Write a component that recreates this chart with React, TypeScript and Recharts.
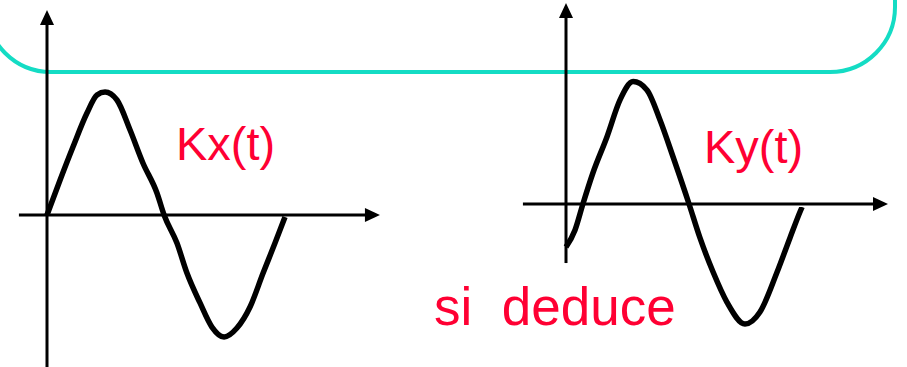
import { LineChart, Line, XAxis, YAxis, ReferenceLine } from "recharts";

// Kx(t): one period, time in periods, value in amplitude units
const kxTime = [0, 0.055, 0.109, 0.168, 0.21, 0.244, 0.294, 0.349, 0.403, 0.462, 0.492, 0.546, 0.588, 0.643, 0.693, 0.744, 0.798, 0.853, 0.908, 0.958, 1.0];
const kxValue = [0, 0.285, 0.553, 0.829, 0.976, 1.0, 0.935, 0.691, 0.423, 0.179, 0, -0.228, -0.472, -0.715, -0.911, -0.992, -0.919, -0.748, -0.472, -0.228, -0.016];

// Ky(t): starts below zero, shifted phase
const kyTime = [0, 0.038, 0.071, 0.113, 0.172, 0.227, 0.282, 0.34, 0.395, 0.45, 0.517, 0.563, 0.618, 0.676, 0.752, 0.815, 0.887, 0.941, 0.983, 0.992];
const kyValue = [-0.35, -0.211, 0, 0.252, 0.545, 0.846, 0.995, 0.927, 0.683, 0.382, 0, -0.276, -0.553, -0.797, -0.976, -0.878, -0.553, -0.276, -0.065, -0.024];

// axis extents: [tMin, tMax] and [vMin, vMax]
const kxAxisT = [-0.118, 1.399];
const kxAxisV = [-1.3, 1.667];
const kyAxisT = [-0.181, 1.353];
const kyAxisV = [-0.48, 1.634];

const labels = ["Kx(t)", "Ky(t)", "si  deduce"];

const RED = "#ff0033";
const TEAL = "#14dcc4";
const FONT = "'Liberation Sans', Arial, sans-serif";

const toRows = (t: number[], v: number[]) => t.map((x, i) => ({ t: x, v: v[i] }));

function Arrow(props: any) {
  const { x1, y1, x2, y2 } = props;
  const dx = x2 - x1;
  const dy = y2 - y1;
  const len = Math.hypot(dx, dy) || 1;
  const ux = dx / len;
  const uy = dy / len;
  const head = 15;
  const half = 7;
  const bx = x2 - ux * head;
  const by = y2 - uy * head;
  const pts = `${x2},${y2} ${bx - uy * half},${by + ux * half} ${bx + uy * half},${by - ux * half}`;
  return (
    <g>
      <line x1={x1} y1={y1} x2={bx + ux * 2} y2={by + uy * 2} stroke="#000" strokeWidth={3} />
      <polygon points={pts} fill="#000" />
    </g>
  );
}

function Wave({
  rows, tDomain, vDomain, axisT, axisV, width, height,
}: {
  rows: { t: number; v: number }[];
  tDomain: number[];
  vDomain: number[];
  axisT: number[];
  axisV: number[];
  width: number;
  height: number;
}) {
  return (
    <LineChart width={width} height={height} data={rows} margin={{ top: 0, right: 0, bottom: 0, left: 0 }}>
      <XAxis type="number" dataKey="t" domain={tDomain} allowDataOverflow hide />
      <YAxis type="number" domain={vDomain} allowDataOverflow hide />
      <ReferenceLine segment={[{ x: axisT[0], y: 0 }, { x: axisT[1], y: 0 }]} ifOverflow="visible" shape={Arrow} />
      <ReferenceLine segment={[{ x: 0, y: axisV[0] }, { x: 0, y: axisV[1] }]} ifOverflow="visible" shape={Arrow} />
      <Line
        type="monotone"
        dataKey="v"
        stroke="#000"
        strokeWidth={5.5}
        strokeLinejoin="round"
        dot={false}
        activeDot={false}
        isAnimationActive={false}
      />
    </LineChart>
  );
}

export default function App() {
  return (
    <div style={{ position: "absolute", left: 0, top: 0, width: 907, height: 367, overflow: "hidden", background: "#fff" }}>
      <svg width={907} height={367} style={{ position: "absolute", left: 0, top: 0 }}>
        <rect x={-14} y={-100} width={909} height={172} rx={65} ry={65} fill="none" stroke={TEAL} strokeWidth={4} />
      </svg>
      <div style={{ position: "absolute", left: 0, top: 0 }}>
        <Wave
          rows={toRows(kxTime, kxValue)}
          tDomain={[-47 / 238, 353 / 238]}
          vDomain={[-152 / 123, 215 / 123]}
          axisT={kxAxisT}
          axisV={kxAxisV}
          width={400}
          height={367}
        />
      </div>
      <div style={{ position: "absolute", left: 500, top: 0 }}>
        <Wave
          rows={toRows(kyTime, kyValue)}
          tDomain={[-66 / 238, 341 / 238]}
          vDomain={[-163 / 123, 204 / 123]}
          axisT={kyAxisT}
          axisV={kyAxisV}
          width={407}
          height={367}
        />
      </div>
      <svg width={907} height={367} style={{ position: "absolute", left: 0, top: 0, pointerEvents: "none" }}>
        <text x={176} y={160} fontSize={47} fill={RED} fontFamily={FONT}>{labels[0]}</text>
        <text x={704} y={163} fontSize={47} fill={RED} fontFamily={FONT}>{labels[1]}</text>
        <text x={434} y={325} fontSize={53} fill={RED} fontFamily={FONT} style={{ whiteSpace: "pre" }}>{labels[2]}</text>
      </svg>
    </div>
  );
}
